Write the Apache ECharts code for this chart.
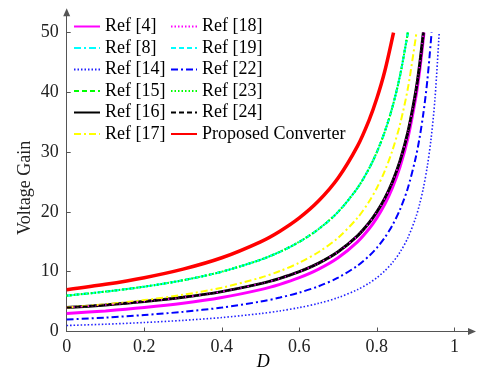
<!DOCTYPE html>
<html>
<head>
<meta charset="utf-8">
<script src="https://cdn.jsdelivr.net/npm/echarts@6/dist/echarts.min.js"></script>
<style>html,body{margin:0;padding:0;background:#fff;}#c{width:477px;height:378px;}</style>
</head>
<body>
<div id="c"></div>
<script>
// Duty-cycle grid (D) shared by the curves
const D = [0, 0.1, 0.2, 0.3, 0.4, 0.5, 0.55, 0.6, 0.65, 0.7, 0.75, 0.78, 0.8, 0.82, 0.84, 0.86, 0.88, 0.9, 0.91, 0.92, 0.93, 0.94, 0.95];
// Voltage gain, each curve ends where it reaches 50
const gainProposed = [7, 7.89, 9.0, 10.43, 12.33, 15, 16.78, 19, 21.86, 25.67, 31, 35.36, 39, 43.44];
const endProposed = 0.843;
const gainGreen = [6, 6.67, 7.5, 8.57, 10, 12, 13.33, 15, 17.14, 20, 24, 27.27, 30, 33.33, 37.5, 42.86];
const endGreen = 0.88;
const gainYellow = [4, 4.56, 5.25, 6.14, 7.33, 9, 10.11, 11.5, 13.29, 15.67, 19, 21.73, 24, 26.78, 30.25, 34.71, 40.67, 49];
const endYellow = 0.902;
const gainBlack = [4, 4.44, 5, 5.71, 6.67, 8, 8.89, 10, 11.43, 13.33, 16, 18.18, 20, 22.22, 25, 28.57, 33.33, 40, 44.44];
const endBlack = 0.92;
const gainMagenta = [3, 3.44, 4, 4.71, 5.67, 7, 7.89, 9, 10.43, 12.33, 15, 17.18, 19, 21.22, 24, 27.57, 32.33, 39, 43.44];
const endMagenta = 0.9216;
const gainBlueDashDot = [2, 2.33, 2.75, 3.29, 4, 5, 5.67, 6.5, 7.57, 9, 11, 12.64, 14, 15.67, 17.75, 20.43, 24, 29, 32.33, 36.5, 41.86];
const endBlueDashDot = 0.9412;
const gainBlueDotted = [1, 1.22, 1.5, 1.86, 2.33, 3, 3.44, 4, 4.71, 5.67, 7, 8.09, 9, 10.11, 11.5, 13.29, 15.67, 19, 21.22, 24, 27.57, 32.33, 39];
const endBlueDotted = 0.9608;
const gainTop = 50;

const xTicks = [0, 0.2, 0.4, 0.6, 0.8, 1];
const yTicks = [0, 10, 20, 30, 40, 50];

function pts(g, end) {
  const out = g.map((v, i) => [D[i], v]);
  out.push([end, gainTop]);
  return out;
}

const FONT = '"Liberation Serif", "Times New Roman", serif';
const chart = echarts.init(document.getElementById('c'));

function s(name, data, color, type, width) {
  return {
    name: name, type: 'line', data: data, symbol: 'none', showSymbol: false,
    smooth: 0.3, animation: false,
    lineStyle: { color: color, type: type, width: width },
    itemStyle: { color: color }
  };
}
const dashDot = [7, 3, 2, 3];
const dotted = [1.5, 2];
const dashed = [5, 3];

const series = [
  s('Ref [4]', pts(gainMagenta, endMagenta), '#ff00ff', 'solid', 3),
  s('Ref [8]', pts(gainGreen, endGreen), '#00ffff', dashDot, 2),
  s('Ref [14]', pts(gainBlueDotted, endBlueDotted), '#2020ff', dotted, 1.6),
  s('Ref [15]', pts(gainGreen, endGreen), '#00ff00', dashed, 2),
  s('Ref [16]', pts(gainBlack, endBlack), '#000000', 'solid', 3),
  s('Ref [17]', pts(gainYellow, endYellow), '#ffff00', dashDot, 2),
  s('Ref [18]', pts(gainBlack, endBlack), '#ff00ff', dotted, 1.6),
  s('Ref [19]', pts(gainGreen, endGreen), '#00ffff', dashed, 2),
  s('Ref [22]', pts(gainBlueDashDot, endBlueDashDot), '#0000ff', dashDot, 2),
  s('Ref [23]', pts(gainGreen, endGreen), '#00ff00', dotted, 2),
  s('Ref [24]', pts(gainBlack, endBlack), '#000000', dashed, 1.6),
  s('Proposed Converter', pts(gainProposed, endProposed), '#ff0000', 'solid', 3.5)
];

const legendBase = {
  orient: 'vertical', top: 17.5, padding: 0, itemWidth: 26, itemHeight: 14, itemGap: 3.5,
  itemStyle: { color: 'rgba(0,0,0,0)', borderColor: 'rgba(0,0,0,0)', borderWidth: 0, opacity: 0 },
  textStyle: { fontFamily: FONT, fontSize: 18, color: '#000', lineHeight: 18 },
  selectedMode: false
};

const axisLineCol = '#555';
chart.setOption({
  animation: false,
  backgroundColor: '#fff',
  grid: { left: 66.7, right: 5, top: 12.3, bottom: 46.5, containLabel: false, outerBoundsMode: 'none' },
  legend: [
    Object.assign({}, legendBase, { left: 73, data: ['Ref [4]', 'Ref [8]', 'Ref [14]', 'Ref [15]', 'Ref [16]', 'Ref [17]'] }),
    Object.assign({}, legendBase, { left: 170, data: ['Ref [18]', 'Ref [19]', 'Ref [22]', 'Ref [23]', 'Ref [24]', 'Proposed Converter'] })
  ],
  xAxis: {
    type: 'value', min: 0, max: 1.0454,
    name: 'D', nameLocation: 'middle', nameGap: 22, nameMoveOverlap: false,
    nameTextStyle: { fontFamily: FONT, fontSize: 18, fontStyle: 'italic', color: '#000', padding: [0, 12, 0, 0] },
    axisLine: { lineStyle: { color: axisLineCol, width: 1 }, symbol: ['none', 'triangle'], symbolSize: [7, 8] },
    axisTick: { inside: true, length: 4, lineStyle: { color: axisLineCol }, customValues: xTicks },
    axisLabel: { customValues: xTicks, fontFamily: FONT, fontSize: 18, color: '#222', margin: 7, formatter: v => String(v) },
    splitLine: { show: false }
  },
  yAxis: {
    type: 'value', min: 0, max: 53.38,
    name: 'Voltage Gain', nameLocation: 'middle', nameGap: 32, nameMoveOverlap: false,
    nameTextStyle: { fontFamily: FONT, fontSize: 18, color: '#222', padding: [0, 32, 0, 0] },
    axisLine: { show: true, lineStyle: { color: axisLineCol, width: 1 }, symbol: ['none', 'triangle'], symbolSize: [7, 8] },
    axisTick: { show: true, inside: true, length: 4, lineStyle: { color: axisLineCol }, customValues: yTicks },
    axisLabel: { customValues: yTicks, fontFamily: FONT, fontSize: 18, color: '#222', margin: 8, padding: [5, 0, 0, 0] },
    splitLine: { show: false }
  },
  series: series
});
</script>
</body>
</html>
